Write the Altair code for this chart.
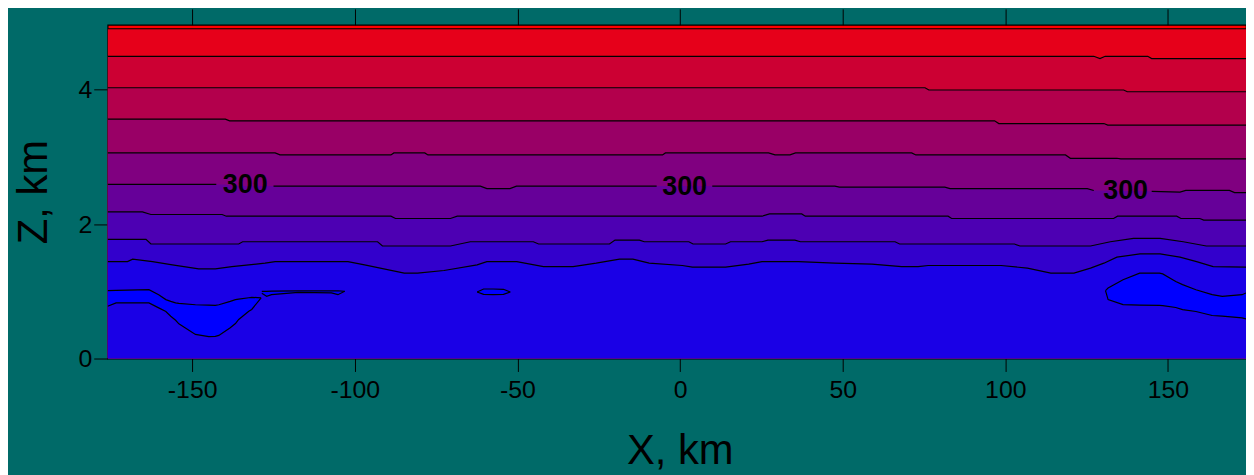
import altair as alt
import pandas as pd
import numpy as np

X_MIN, X_MAX = -176, 174
Z_MAX = 4.967

# Contour lines (x in km, z in km), from top to bottom
LA_X = [-176, 174]
LA_Z = [4.908, 4.908]
LB_X = [-176, 127.2, 129.1, 130.7, 143.8, 145.0, 174]
LB_Z = [4.498, 4.498, 4.464, 4.498, 4.498, 4.464, 4.464]
LC_X = [-176, 75.3, 76.5, 136.4, 137.5, 174]
LC_Z = [4.030, 4.030, 3.996, 3.996, 3.970, 3.970]
LD_X = [-176, -139.8, -138.5, 96.7, 98.0, 130.3, 131.5, 174]
LD_Z = [3.562, 3.562, 3.537, 3.537, 3.497, 3.497, 3.474, 3.474]
LE_X = [-176, -124.5, -123.0, -88.9, -88.0, -78.5, -77.5, -5.4, -4.5, 27.2,
        29.2, 33.8, 35.5, 71.2, 72.5, 118.5, 120.0, 134.3, 135.5, 174]
LE_Z = [3.060, 3.060, 3.030, 3.030, 3.060, 3.060, 3.030, 3.030, 3.060, 3.060,
        3.030, 3.030, 3.060, 3.060, 3.030, 3.030, 2.980, 2.980, 2.971, 2.971]
LF_X = [-176, -140, -137, -61.4, -59.4, -52.3, -50.3, 47.6, 49.0, 81.4,
        83.0, 125.2, 127.2, 145.0, 153.7, 155.5, 168.9, 170.5, 174]
LF_Z = [2.591, 2.591, 2.566, 2.566, 2.528, 2.528, 2.566, 2.566, 2.551, 2.551,
        2.528, 2.528, 2.50, 2.488, 2.477, 2.503, 2.503, 2.469, 2.469]
LG_X = [-176, -165.3, -162.7, -140.8, -139.5, -88.9, -87.5, -70.6, -68.5, 25.2, 27.5,
        37.4, 38.5, 82.4, 83.5, 133.3, 134.5, 152.7, 154.0, 159.8, 161.0, 174]
LG_Z = [2.182, 2.182, 2.143, 2.143, 2.118, 2.118, 2.084, 2.084, 2.118, 2.118, 2.152,
        2.152, 2.118, 2.118, 2.084, 2.084, 2.118, 2.118, 2.084, 2.084, 2.059, 2.059]
LH_X = [-176, -164.2, -162.7, -135.7, -134.5, -93.0, -91.5, -70.6, -64.5, -45.1,
        -43.5, -21.7, -20.0, -12.5, -11.0, 2.7, 4.0, 14.0, 15.5, 25.2,
        27.0, 35.3, 37.0, 66.1, 67.5, 102.8, 104.5, 126.2, 132.3, 139.4,
        147.6, 154.7, 161.8, 174]
LH_Z = [1.774, 1.774, 1.704, 1.704, 1.738, 1.738, 1.675, 1.675, 1.738, 1.738,
        1.704, 1.704, 1.763, 1.763, 1.738, 1.738, 1.704, 1.704, 1.738, 1.738,
        1.763, 1.763, 1.738, 1.738, 1.704, 1.704, 1.675, 1.675, 1.738, 1.789,
        1.789, 1.738, 1.675, 1.675]
LI_X = [-176, -169.9, -168.3, -162.2, -156.1, -148.0, -142.9, -137.8, -127.6, -124.5,
        -102.1, -97.0, -84.8, -80.7, -72.6, -62.4, -59.4, -50.2, -42.0, -32.9,
        -25.8, -18.6, -14.5, -9.5, 0.7, 3.8, 14.0, 21.1, 25.2, 36.4,
        47.6, 59.0, 68.1, 73.2, 76.3, 98.7, 106.8, 114.0, 121.1, 126.2,
        130.3, 134.3, 141.4, 147.6, 153.7, 158.8, 163.9, 174]
LI_Z = [1.443, 1.443, 1.478, 1.443, 1.394, 1.335, 1.335, 1.369, 1.419, 1.443,
        1.443, 1.394, 1.271, 1.271, 1.310, 1.394, 1.443, 1.443, 1.369, 1.369,
        1.419, 1.478, 1.478, 1.419, 1.384, 1.360, 1.360, 1.404, 1.443, 1.443,
        1.419, 1.404, 1.369, 1.369, 1.384, 1.384, 1.345, 1.271, 1.271, 1.345,
        1.419, 1.508, 1.557, 1.557, 1.508, 1.443, 1.369, 1.360]

LINES = [(LA_X, LA_Z), (LB_X, LB_Z), (LC_X, LC_Z), (LD_X, LD_Z), (LE_X, LE_Z),
         (LF_X, LF_Z), (LG_X, LG_Z), (LH_X, LH_Z), (LI_X, LI_Z)]

# colour of the band just below each line; top band colour separately
TOP_COLOR = "#ff0000"
BAND_COLORS = ["#e6001a", "#cc0033", "#b3004c", "#990066", "#800080",
               "#660099", "#4d00b3", "#3300cc", "#1a00e6"]
POCKET_COLOR = "#0000ff"

# closed low-value pockets (shared x, upper z, lower z)
P1_X = [-176, -173.4, -163.3, -160.3, -158.1, -156.6, -155.1, -154.1, -149.0, -144.9,
        -142.9, -141.8, -138.3, -136.7, -135.7, -132.6, -131.7, -128.8]
P1_TOP = [1.010, 1.013, 1.024, 0.95, 0.877, 0.85, 0.828, 0.82, 0.80, 0.795,
          0.792, 0.80, 0.85, 0.877, 0.885, 0.905, 0.911, 0.902]
P1_BOT = [0.778, 0.828, 0.828, 0.754, 0.70, 0.630, 0.57, 0.517, 0.359, 0.325,
          0.33, 0.344, 0.458, 0.52, 0.581, 0.704, 0.73, 0.902]
P2_X = [-128.6, -127.1, -125.6, -117.4, -107.2, -105.2, -103.1]
P2_TOP = [1.00, 1.00, 1.003, 1.006, 1.008, 1.009, 1.00]
P2_BOT = [0.97, 0.925, 0.95, 0.984, 0.976, 0.95, 1.00]
P3_X = [-62.4, -60.4, -57.5, -54.3, -52.2]
P3_TOP = [0.99, 1.035, 1.035, 1.03, 0.99]
P3_BOT = [0.99, 0.955, 0.95, 0.955, 0.99]
P4_X = [130.8, 131.6, 136.2, 141.3, 147.4, 148.4, 152.4, 154.5, 158.6, 163.6, 166.7, 172.8, 174]
P4_TOP = [1.010, 1.05, 1.172, 1.271, 1.271, 1.26, 1.147, 1.10, 1.024, 0.95, 0.925, 0.950, 0.976]
P4_BOT = [1.010, 0.877, 0.803, 0.795, 0.79, 0.788, 0.76, 0.729, 0.70, 0.640, 0.63, 0.606, 0.59]
POCKETS = [(P1_X, P1_TOP, P1_BOT), (P2_X, P2_TOP, P2_BOT),
           (P3_X, P3_TOP, P3_BOT), (P4_X, P4_TOP, P4_BOT)]

# contour labels
LABEL_TEXT = ["300", "300", "300"]
LABEL_X = [-133.7, 1.4, 137.0]
LABEL_Z = [2.591, 2.566, 2.503]
F_GAPS = [(-142.6, -125.0), (-7.2, 9.9), (127.2, 145.0)]

X_TICKS = [-150, -100, -50, 0, 50, 100, 150]
Z_TICKS = [0, 2, 4]

FONT = "Liberation Sans"

xs = alt.Scale(domain=[X_MIN, X_MAX], nice=False, zero=False)
ys = alt.Scale(domain=[0, Z_MAX], nice=False, zero=False)

bottom_axis = alt.Axis(values=X_TICKS, orient="bottom", grid=False, domain=False,
                       tickSize=13, tickColor="black", tickWidth=1,
                       labelFont=FONT, labelFontSize=25, labelColor="black",
                       labelPadding=6, labelFlush=False, labelOverlap=False,
                       labelExpr="'' + datum.value",
                       title="X, km", titleFont=FONT, titleFontSize=42,
                       titleFontWeight="normal", titleColor="black",
                       titleX=576, titleY=106, titleBaseline="alphabetic",
                       titleAlign="center", titleAnchor="start")
left_axis = alt.Axis(values=Z_TICKS, orient="left", grid=False, domain=False,
                     tickSize=14, tickColor="black", tickWidth=1,
                     labelFont=FONT, labelFontSize=25, labelColor="black",
                     labelPadding=2, labelFlush=False, labelOverlap=False,
                     labelExpr="'' + datum.value",
                     title="Z, km", titleFont=FONT, titleFontSize=42,
                     titleFontWeight="normal", titleColor="black",
                     titleX=-62, titleY=168, titleAngle=270,
                     titleBaseline="alphabetic", titleAlign="center", titleAnchor="start")
top_axis = alt.Axis(values=X_TICKS, orient="top", grid=False, domain=False,
                    tickSize=16, tickColor="black", tickWidth=1,
                    labels=False, title=None)

layers = []
# filled bands: area from each contour down to the ground, painted top to bottom
for i, ((lx, lz), col) in enumerate(zip(LINES, BAND_COLORS)):
    df = pd.DataFrame({"x": lx, "z": lz})
    xa = bottom_axis if i == 0 else None
    ya = left_axis if i == 0 else None
    layers.append(
        alt.Chart(df).mark_area(color=col, clip=True, interpolate="linear").encode(
            x=alt.X("x:Q", scale=xs, axis=xa),
            y=alt.Y("z:Q", scale=ys, axis=ya),
            y2=alt.datum(0),
        )
    )

# pockets
prow = []
for k, (px, pt, pb) in enumerate(POCKETS):
    for a, b, c in zip(px, pt, pb):
        prow.append({"p": k, "x": a, "top": b, "bot": c})
pdf = pd.DataFrame(prow)
layers.append(
    alt.Chart(pdf).mark_area(color=POCKET_COLOR, clip=True).encode(
        x=alt.X("x:Q", scale=xs, axis=None),
        y=alt.Y("top:Q", scale=ys, axis=None),
        y2="bot:Q",
        detail="p:N",
    )
)

# contour lines
lrows = []
seg = 0
for i, (lx, lz) in enumerate(LINES):
    if i == 5:
        edges = [X_MIN] + [v for g in F_GAPS for v in g] + [X_MAX]
        for a, b in zip(edges[0::2], edges[1::2]):
            pts = [(a, float(np.interp(a, lx, lz)))]
            pts += [(x, z) for x, z in zip(lx, lz) if a < x < b]
            pts += [(b, float(np.interp(b, lx, lz)))]
            for x, z in pts:
                lrows.append({"seg": seg, "x": x, "z": z})
            seg += 1
    else:
        for x, z in zip(lx, lz):
            lrows.append({"seg": seg, "x": x, "z": z})
        seg += 1
for px, pt, pb in POCKETS:
    for x, z in zip(px, pt):
        lrows.append({"seg": seg, "x": x, "z": z})
    seg += 1
    for x, z in zip(px, pb):
        lrows.append({"seg": seg, "x": x, "z": z})
    seg += 1
ldf = pd.DataFrame(lrows)
layers.append(
    alt.Chart(ldf).mark_line(color="black", strokeWidth=1.2, clip=True).encode(
        x=alt.X("x:Q", scale=xs, axis=None),
        y=alt.Y("z:Q", scale=ys, axis=None),
        detail="seg:N",
        order="x:Q",
    )
)

# contour labels
tdf = pd.DataFrame({"x": LABEL_X, "z": LABEL_Z, "t": LABEL_TEXT})
layers.append(
    alt.Chart(tdf).mark_text(font=FONT, fontSize=27, fontWeight="bold", color="black",
                             align="center", baseline="middle", dy=1).encode(
        x=alt.X("x:Q", scale=xs, axis=top_axis),
        y=alt.Y("z:Q", scale=ys, axis=None),
        text="t:N",
    )
)

chart = (
    alt.layer(*layers)
    .resolve_axis(x="independent", y="independent")
    .properties(
        width=1146, height=336,
        autosize=alt.AutoSizeParams(type="none"),
        padding={"left": 100.3, "top": 15.3, "right": 0, "bottom": 120},
        background="#006a68",
    )
    .configure_view(fill=TOP_COLOR, stroke="black", strokeWidth=1.2)
)

chart.save("out.html", embed_options={"renderer": "svg", "actions": False})
